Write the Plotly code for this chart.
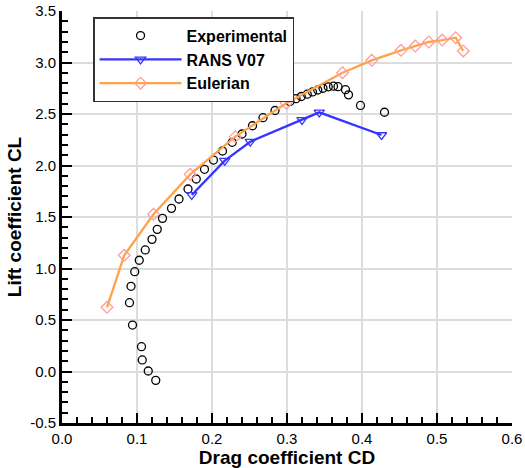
import plotly.graph_objects as go

# Experimental data
exp_cd = [0.125, 0.115, 0.107, 0.106, 0.094, 0.090, 0.092, 0.097, 0.103, 0.111,
          0.120, 0.127, 0.134, 0.146, 0.156, 0.168, 0.179, 0.190, 0.202, 0.214,
          0.227, 0.240, 0.254, 0.268, 0.284, 0.304, 0.312, 0.319, 0.327, 0.334,
          0.341, 0.348, 0.355, 0.362, 0.368, 0.378, 0.382, 0.398, 0.430]
exp_cl = [-0.086, 0.005, 0.112, 0.241, 0.451, 0.668, 0.827, 0.969, 1.080, 1.180,
          1.283, 1.380, 1.487, 1.584, 1.675, 1.772, 1.869, 1.963, 2.053, 2.141,
          2.225, 2.306, 2.386, 2.464, 2.534, 2.621, 2.649, 2.670, 2.692, 2.714,
          2.733, 2.750, 2.764, 2.770, 2.765, 2.736, 2.686, 2.583, 2.517]

# RANS V07
rans_cd = [0.173, 0.217, 0.251, 0.320, 0.343, 0.426]
rans_cl = [1.714, 2.047, 2.231, 2.442, 2.516, 2.296]

# Eulerian
eul_cd = [0.060, 0.083, 0.122, 0.171, 0.231, 0.299, 0.374, 0.413, 0.452, 0.471,
          0.489, 0.507, 0.525, 0.535]
eul_cl = [0.623, 1.128, 1.526, 1.914, 2.280, 2.604, 2.901, 3.021, 3.118, 3.160,
          3.199, 3.218, 3.241, 3.112]

x_ticks = [0.0, 0.1, 0.2, 0.3, 0.4, 0.5, 0.6]
y_ticks = [-0.5, 0.0, 0.5, 1.0, 1.5, 2.0, 2.5, 3.0, 3.5]

FONT = "Liberation Sans, Arial, Helvetica, sans-serif"

fig = go.Figure()
fig.add_trace(go.Scatter(
    x=exp_cd, y=exp_cl, mode="markers", name="Experimental",
    marker=dict(symbol="circle-open", size=8, color="black", line=dict(width=1.3)),
))
fig.add_trace(go.Scatter(
    x=rans_cd, y=rans_cl, mode="lines+markers", name="RANS V07",
    line=dict(color="#3535ff", width=2.3),
    marker=dict(symbol="triangle-down-open", size=9, color="#3535ff", line=dict(width=1.3)),
))
fig.add_trace(go.Scatter(
    x=eul_cd, y=eul_cl, mode="lines+markers", name="Eulerian",
    line=dict(color="#ffa34a", width=2.3),
    marker=dict(symbol="diamond-open", size=9, color="#ff9c9c", line=dict(width=1.3)),
))

axis_common = dict(
    showgrid=True, gridcolor="#dcdcdc", gridwidth=1.5,
    showline=True, linecolor="black", linewidth=3,
    ticks="inside", ticklen=10, tickwidth=2, tickcolor="black",
    tickfont=dict(family=FONT, size=15, color="black"),
    zeroline=False, automargin=False,
)

fig.update_xaxes(
    range=[0, 0.6], tickvals=x_ticks, ticktext=[f"{v:.1f}" for v in x_ticks],
    title=dict(text="<b>Drag coefficient CD</b>", font=dict(family=FONT, size=19, color="black"), standoff=2),
    minor=dict(dtick=0.02, ticks="inside", ticklen=6, tickwidth=1.5, tickcolor="black", showgrid=False),
    **axis_common,
)
fig.update_yaxes(
    range=[-0.5, 3.5], tickvals=y_ticks, ticktext=[f"{v:.1f}" for v in y_ticks],
    title=dict(text="<b>Lift coefficient CL</b>", font=dict(family=FONT, size=19, color="black"), standoff=4),
    minor=dict(dtick=0.1, ticks="inside", ticklen=6, tickwidth=1.5, tickcolor="black", showgrid=False),
    **axis_common,
)

fig.update_layout(
    width=525, height=468,
    margin=dict(l=62, r=13, t=11, b=45),
    plot_bgcolor="white", paper_bgcolor="white",
    font=dict(family=FONT, color="black"),
    legend=dict(
        x=0.069, y=0.985, xanchor="left", yanchor="top",
        bgcolor="white", bordercolor="#333333", borderwidth=1.5,
        font=dict(family=FONT, size=16, color="black", weight="bold"),
        itemwidth=82, tracegroupgap=0,
    ),
    showlegend=True,
)

fig.write_html("out.html")
